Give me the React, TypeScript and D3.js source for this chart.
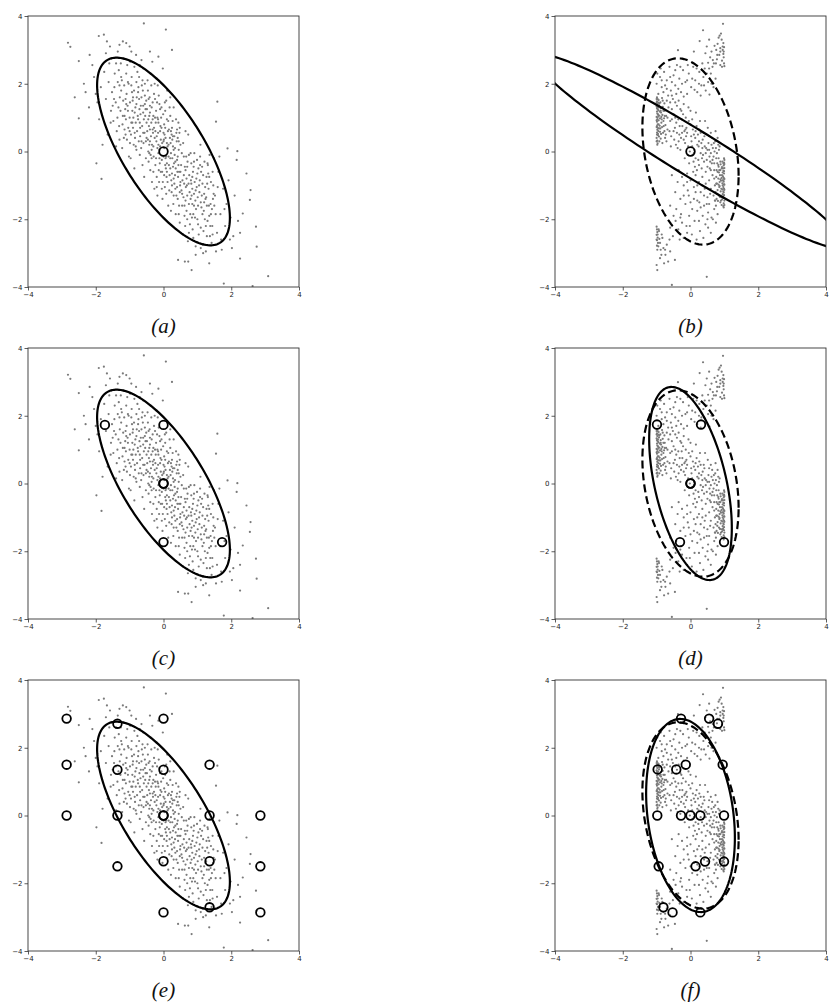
import React, { useRef, useEffect } from 'react'
import * as d3 from 'd3'

// ticks shared by every panel
const TICKS = [-4, -2, 0, 2, 4]

// ellipse params: [cx, cy, x half-extent, y half-extent, correlation]
const ellipseA = [0, 0, 1.96, 2.77, -0.707]
const ellipseB = [0, 0, 4.6, 2.87, -0.961]
const ellipseD = [0, 0, 1.22, 2.85, -0.46]
const ellipseF = [0, 0, 1.31, 2.85, -0.23]
const ellipseTrue = [0, 0, 1.42, 2.75, -0.26]

// markers
const meanA = [[0, 0]]
const meanB = [[0, 0]]
const sigmaC = [[0, 0], [0, 0], [-1.73, 1.73], [0, 1.73], [0, -1.73], [1.73, -1.73]]
const sigmaD = [[0, 0], [0, 0], [-0.99, 1.74], [0.31, 1.74], [-0.31, -1.73], [0.99, -1.73]]
const gridE = [
  [-2.86, 2.86], [-1.36, 2.71], [0, 2.86], [-2.86, 1.5], [-1.36, 1.35], [0, 1.35], [1.36, 1.5],
  [-2.86, 0], [-1.36, 0], [0, 0], [0, 0], [1.36, 0], [2.86, 0], [-1.36, -1.5], [0, -1.35],
  [1.36, -1.35], [2.86, -1.5], [0, -2.86], [1.36, -2.71], [2.86, -2.86],
]
const gridF = [
  [-0.28, 2.86], [0.55, 2.86], [0.81, 2.71], [-0.97, 1.36], [-0.42, 1.36], [-0.14, 1.5], [0.95, 1.5],
  [-0.98, 0], [-0.28, 0], [0, 0], [0.29, 0], [0.99, 0], [-0.94, -1.5], [0.15, -1.5],
  [0.43, -1.36], [0.99, -1.36], [-0.8, -2.71], [-0.53, -2.86], [0.29, -2.86],
]

// gray sample cloud of the left column
const cloudA = [
  [-2.82,3.21],[-2.75,3.09],[-2.5,2.67],[-2.62,1.6],[-2.5,0.98],[-2.18,2.85],[-1.91,3.41],[-1.76,3.45],[-2.3,1.75],[-2.05,2.2],
  [-1.98,-0.35],[-1.83,-0.81],[-2.2,1.3],[-1.95,1.45],[-1.7,2.9],[-1.6,2.6],[-1.85,1.9],[-1.55,1.2],[-1.65,0.5],[-1.75,2.35],
  [-2.1,2.55],[-1.58,3.1],[-1.52,1.75],[-1.9,0.95],[-1.62,2.05],[-2.35,2.0],[-1.7,1.55],[-1.8,0.2],[-1.56,0.85],[-2.0,1.7],
  [-1.67,3.25],[-1.53,2.75],[-1.2,3.25],[-1.1,3.2],[-1.3,3.15],[-0.95,2.95],[-0.4,2.95],[-1.0,3.1],[0.25,3.0],[-0.15,2.8],
  [-1.45,1.9],[-1.38,0.6],[-1.32,2.4],[-1.27,1.2],[-1.22,0.1],[-1.18,2.75],[-1.12,1.55],[-1.08,0.35],[-1.05,2.05],[-1.0,1.0],
  [-0.97,-0.2],[-0.93,1.75],[-0.9,0.7],[-0.86,2.5],[-0.83,1.3],[-0.8,0.05],[-0.76,1.05],[-0.72,2.2],[-0.69,0.45],[-0.65,1.6],
  [-0.62,-0.4],[-0.58,0.95],[-0.55,2.0],[-0.52,0.3],[-1.48,0.9],[-1.41,1.45],[-1.35,2.95],[-1.3,0.35],[-1.25,1.8],[-1.2,1.05],
  [-1.15,0.65],[-1.1,2.3],[-1.06,1.35],[-1.02,-0.15],[-0.98,2.65],[-0.95,0.85],[-0.91,1.5],[-0.88,0.2],[-0.85,1.15],[-0.81,2.85],
  [-0.78,0.6],[-0.74,1.9],[-0.7,-0.1],[-0.67,1.35],[-0.63,0.75],[-0.6,2.45],[-0.57,-0.75],[-0.53,1.25],[-1.44,2.3],[-1.36,1.0],
  [-1.29,1.6],[-1.23,2.1],[-1.17,0.4],[-1.13,1.25],[-1.09,1.7],[-1.04,0.7],[-0.99,1.45],[-0.94,2.2],[-0.89,1.0],[-0.84,0.4],
  [-0.79,1.6],[-0.75,0.95],[-0.71,1.25],[-0.66,0.1],[-0.61,1.8],[-0.56,0.55],[-0.51,1.5],[-1.4,0.15],[-1.33,1.3],[-1.26,2.6],
  [-1.19,1.5],[-1.11,0.95],[-1.03,2.0],[-0.96,0.5],[-0.87,1.8],[-0.82,0.85],[-0.77,2.35],[-0.73,0.3],[-0.68,1.1],[-0.64,1.95],
  [-0.59,0.25],[-0.54,1.05],[-1.46,1.55],[-1.21,0.8],[-1.07,2.55],[-0.92,1.2],[-0.86,-0.5],[-0.69,0.7],[-0.6,1.35],[-0.5,0.85],
  [-1.31,0.75],[-1.16,1.95],[-0.99,0.25],[-0.8,1.4],[-0.65,2.7],[-0.55,1.65],
  [-0.48,0.6],[-0.46,1.8],[-0.44,-0.3],[-0.42,1.05],[-0.4,0.3],[-0.38,2.3],[-0.36,0.85],[-0.34,-0.9],[-0.32,1.45],[-0.3,0.15],
  [-0.28,0.7],[-0.26,2.0],[-0.24,-0.4],[-0.22,1.2],[-0.2,0.45],[-0.18,-1.3],[-0.16,0.95],[-0.14,1.65],[-0.12,0.05],[-0.1,0.6],
  [-0.08,-0.6],[-0.06,1.3],[-0.04,0.25],[-0.02,2.45],[0.0,-0.15],[0.02,0.8],[0.04,-1.05],[0.06,0.4],[0.08,1.5],[0.1,-0.35],
  [0.12,0.15],[0.14,-1.6],[0.16,0.65],[0.18,-0.7],[0.2,1.05],[0.22,-0.05],[0.24,-1.2],[0.26,0.35],[0.28,-0.45],[0.3,1.3],
  [0.32,-0.95],[0.34,0.1],[0.36,-1.85],[0.38,0.55],[0.4,-0.25],[0.42,-1.4],[0.44,0.85],[0.46,-0.6],[0.48,-2.1],[0.5,0.2],
  [-0.49,1.25],[-0.45,0.0],[-0.41,1.6],[-0.37,0.45],[-0.33,2.65],[-0.29,-0.15],[-0.25,1.0],[-0.21,0.3],[-0.17,1.95],[-0.13,-0.9],
  [-0.09,0.75],[-0.05,-0.25],[-0.01,1.1],[0.03,0.5],[0.07,-0.5],[0.11,1.8],[0.15,-0.15],[0.19,0.4],[0.23,-0.85],[0.27,0.9],
  [0.31,-0.35],[0.35,-1.1],[0.39,0.3],[0.43,-0.75],[0.47,0.55],[-0.47,2.1],[-0.43,0.75],[-0.39,-0.55],[-0.35,1.3],[-0.31,0.55],
  [-0.27,-1.1],[-0.23,0.85],[-0.19,1.45],[-0.15,0.2],[-0.11,-0.35],[-0.07,1.0],[-0.03,-1.4],[0.01,0.35],[0.05,1.2],[0.09,-0.75],
  [0.13,0.6],[0.17,-1.15],[0.21,0.25],[0.25,0.7],[0.29,-1.55],[0.33,-0.1],[0.37,0.95],[0.41,-0.6],[0.45,0.05],[0.49,-1.0],
  [-0.46,0.35],[-0.4,1.35],[-0.34,0.2],[-0.28,1.7],[-0.22,-0.2],[-0.16,0.55],[-0.1,1.25],[-0.04,-0.6],[0.02,0.1],[0.08,-1.25],
  [0.14,0.9],[0.2,-0.5],[0.26,-0.2],[0.32,0.45],[0.38,-1.3],[0.44,-0.4],[0.48,0.7],[-0.44,1.55],[-0.38,-0.1],[-0.32,0.95],
  [-0.26,0.4],[-0.2,2.15],[-0.14,-0.55],[-0.08,0.35],[-0.02,-0.9],[0.04,1.45],[0.1,0.25],[0.16,-0.4],[0.22,-1.75],[0.28,0.15],
  [0.34,-0.7],[0.4,0.65],[0.46,-1.6],[-0.42,0.2],[-0.3,-0.6],[-0.18,0.1],[-0.06,0.7],[0.06,-0.2],[0.18,1.3],[0.3,-0.8],
  [0.42,0.4],[-0.36,1.95],[-0.24,0.6],[-0.12,-0.2],[0.0,0.55],[0.12,-0.9],[0.24,0.5],[0.36,-0.5],[0.07,3.6],[-0.58,3.78],
  [0.52,-0.4],[0.55,-1.6],[0.58,0.25],[0.61,-0.95],[0.64,-2.2],[0.67,-0.15],[0.7,-1.3],[0.73,0.5],[0.76,-0.7],[0.79,-1.85],
  [0.82,-0.35],[0.85,-1.1],[0.88,-2.55],[0.91,-0.05],[0.94,-1.45],[0.97,-0.8],[1.0,-2.0],[1.03,-0.5],[1.06,-1.2],[1.09,0.2],
  [1.12,-1.65],[1.15,-0.95],[1.18,-2.35],[1.21,-0.3],[1.24,-1.4],[1.27,-0.75],[1.3,-2.05],[1.33,-1.1],[1.36,-0.1],[1.39,-1.55],
  [1.42,-2.7],[1.45,-0.6],[1.48,-1.25],[0.53,-1.15],[0.57,-2.45],[0.6,-0.7],[0.65,0.6],[0.69,-1.0],[0.72,-2.65],[0.75,-1.55],
  [0.8,-0.05],[0.84,-1.95],[0.87,-0.6],[0.9,-1.25],[0.95,-2.8],[0.99,-0.25],[1.02,-1.6],[1.07,-0.85],[1.1,-2.25],[1.14,-0.45],
  [1.19,-1.75],[1.23,-1.05],[1.28,-2.5],[1.31,-0.4],[1.35,-1.9],[1.4,-0.9],[1.44,-2.2],[1.49,-0.2],[0.54,-0.05],[0.59,-1.35],
  [0.63,-0.45],[0.68,-1.75],[0.74,-0.95],[0.78,-2.15],[0.83,-1.3],[0.89,-0.45],[0.93,-1.95],[0.98,-1.05],[1.04,-2.45],[1.08,-0.15],
  [1.13,-1.3],[1.17,-0.7],[1.22,-2.0],[1.26,-1.35],[1.32,-0.65],[1.37,-2.5],[1.43,-1.7],[1.47,-1.0],[0.56,-0.85],[0.62,-1.9],
  [0.71,-0.3],[0.77,-1.2],[0.86,-2.3],[0.92,-0.9],[1.01,-1.35],[1.11,-0.6],[1.2,-1.5],[1.29,-0.95],[1.38,-2.2],[1.46,-1.4],
  [0.66,-1.05],[0.81,-0.85],[0.96,-1.7],[1.16,-2.75],[1.34,-1.6],
  [1.59,1.47],[1.55,0.88],[1.89,0.09],[2.18,0.01],[2.16,-0.25],[2.45,-0.65],[2.57,-1.14],[2.55,-1.43],[2.34,-1.83],[2.73,-2.22],
  [2.75,-2.81],[2.26,-3.16],[3.09,-3.68],[1.78,-3.9],[2.63,-3.97],[1.96,-2.6],[2.06,-2.5],[2.26,-2.4],[1.52,-1.3],[1.58,-2.4],
  [1.62,-0.6],[1.68,-1.85],[1.72,-2.9],[1.76,-1.1],[1.82,-2.2],[1.86,-1.55],[1.92,-0.85],[1.98,-1.95],[2.02,-2.85],[2.1,-1.3],
  [1.55,-2.95],[1.65,-0.15],[1.7,-2.6],[1.8,-1.7],[1.54,-1.85],[2.2,-2.05],[1.6,-1.05],
  [0.43,-3.2],[0.63,-3.25],[0.73,-3.25],[0.83,-3.5],[1.35,-3.3],[1.17,-3.0],[0.95,-3.05],[1.25,-2.95],[1.1,-2.85],
  [-0.9,1.6],[-0.7,0.85],[-0.5,0.4],[-0.3,1.05],[-0.1,0.15],[0.1,-0.6],[0.3,0.05],[0.5,-0.9],[0.7,-0.45],[0.9,-1.6],
  [-1.1,1.4],[-0.85,0.55],[-0.6,1.15],[-0.35,-0.2],[-0.15,0.85],[0.05,-0.4],[0.25,-1.0],[0.45,0.3],[0.65,-1.45],[0.85,-0.75],
  [-1.25,2.2],[-1.0,0.6],[-0.75,1.75],[-0.45,0.95],[-0.2,-0.75],[0.0,0.3],[0.2,-0.2],[0.4,-1.05],[0.6,-0.15],[0.8,-1.4],
  [1.0,-0.65],[1.2,-1.25],[1.4,-1.85],[-1.4,2.6],[-1.15,1.05],[-0.95,1.95],[-0.65,0.3],[-0.4,0.65],[-0.25,1.55],[-0.05,-1.1],
  [0.15,0.2],[0.35,-0.3],[0.55,-1.25],[0.75,-0.1],[0.95,-1.15],[1.15,-1.85],[1.35,-0.75],[-0.55,1.4],[-0.35,0.05],[0.1,0.95],
  [0.3,-1.3],[0.5,-0.6],[0.7,-2.0],[0.9,-0.3],[1.1,-1.5],[-0.8,2.05],[-0.6,0.55],[-0.4,1.15],[-0.15,-0.05],[0.05,0.7],
  [0.25,-0.65],[0.45,-1.85],[0.65,-0.55],[0.85,-1.55],[1.05,-1.0],[1.25,-2.2],[-1.05,1.2],[-0.82,0.15],[-0.62,2.1],[-0.42,-0.05],
  [-0.18,1.0],[0.02,-0.7],[0.22,0.6],[0.42,-0.15],[0.62,-1.6],[0.82,-0.95],[1.02,-2.15],[-1.3,1.95],[-1.12,0.5],[-0.92,0.85],
  [-0.72,1.55],[-0.52,-0.2],[-0.32,0.65],[-0.12,1.4],[0.08,-0.15],[0.28,0.45],[0.48,-1.2],[0.68,-0.8],[0.88,-1.85],[1.08,-0.4],
  [1.28,-1.6],[1.45,-2.45],[-1.5,1.35],[-1.35,2.05],[1.5,-1.6],[1.3,-0.35],[-0.2,-1.05],[0.2,1.6],[-0.7,2.55],[0.75,-2.4],
]

// gray sample cloud of the right column
const cloudB = [
  [0.96,3.77],[0.37,3.58],[0.86,3.42],[0.83,3.36],[0.27,3.26],[0.97,3.2],[0.99,3.08],[0.8,3.18],[0.76,3.0],[0.88,2.95],
  [0.97,2.88],[-0.37,2.99],[0.44,2.9],[0.58,2.78],[0.78,2.72],[0.93,2.68],[0.69,2.6],[0.88,2.55],[1.0,2.52],[0.62,2.95],
  [0.92,3.3],[0.71,3.12],[0.98,2.78],[0.52,2.62],[0.85,2.85],[0.66,2.7],[0.95,3.0],[0.9,3.48],[0.79,2.85],[0.99,2.6],
  [0.48,3.1],[0.1,2.95],[0.55,3.3],
  [-1.0,2.0],[-0.9,2.2],[-0.85,1.9],[-0.78,2.35],[-0.7,2.1],[-0.62,2.5],[-0.58,1.8],[-0.5,2.25],[-0.45,1.95],[-0.4,2.55],
  [-0.33,2.15],[-0.28,1.75],[-0.22,2.4],[-0.15,2.05],[-0.1,1.7],[-0.05,2.3],[0.02,1.9],[0.08,2.5],[0.14,2.1],[0.2,1.75],
  [0.26,2.35],[0.32,1.95],[0.38,2.2],[0.45,1.8],[0.52,2.05],[0.6,2.3],[0.68,1.9],[0.74,2.15],[-0.95,1.7],[-0.88,2.45],
  [-0.8,1.75],[-0.66,1.65],[-0.55,2.05],[-0.36,1.85],[-0.2,1.62],[-0.08,2.55],[0.05,2.15],[0.18,2.45],[0.3,1.65],[0.42,2.45],
  [0.56,1.68],[0.65,2.5],[-0.42,1.7],[-0.25,2.0],[0.12,1.82],[-0.75,1.95],[-0.98,2.3],[0.35,2.6],[0.48,2.3],[-0.6,2.2],
  [-1.0,1.55],[-0.99,1.48],[-0.98,1.4],[-1.0,1.33],[-0.97,1.25],[-0.99,1.18],[-0.96,1.1],[-1.0,1.02],[-0.98,0.95],[-0.99,0.88],
  [-0.97,0.8],[-1.0,0.72],[-0.98,0.64],[-0.99,0.56],[-0.96,0.48],[-1.0,0.4],[-0.98,0.32],[-0.97,0.24],[-0.94,1.52],[-0.93,1.36],
  [-0.95,1.22],[-0.92,1.06],[-0.94,0.92],[-0.91,0.76],[-0.95,0.6],[-0.93,0.44],[-0.92,0.3],[-0.89,1.45],[-0.88,1.28],[-0.87,1.15],
  [-0.9,0.98],[-0.86,0.85],[-0.89,0.68],[-0.87,0.52],[-0.88,0.38],[-0.84,1.58],[-0.82,1.32],[-0.83,1.08],[-0.8,0.9],[-0.84,0.72],
  [-0.81,0.55],[-0.83,0.25],[-0.77,1.42],[-0.76,1.2],[-0.78,0.98],[-0.74,0.78],[-0.77,0.6],[-0.75,0.4],[-0.99,1.6],[-0.96,1.3],
  [-0.97,1.0],[-0.99,0.75],[-0.96,0.52],[-0.98,0.2],[-0.95,1.44],[-0.93,0.68],[-0.91,1.18],[-0.86,1.02],[-0.8,1.2],[-0.72,1.05],
  [-0.7,1.5],[-0.68,0.65],[-0.71,0.3],
  [-1.0,1.45],[-0.99,1.28],[-0.98,1.12],[-1.0,0.92],[-0.97,0.7],[-0.99,0.5],[-1.0,0.3],[-0.97,1.55],[-0.95,1.05],[-0.94,0.8],
  [-0.92,1.42],[-0.9,0.58],[-0.88,1.2],[-0.85,0.95],[-0.82,1.5],[-0.79,0.75],[-0.76,1.05],[-0.73,0.5],
  [-0.65,1.3],[-0.6,0.9],[-0.57,0.45],[-0.52,1.55],[-0.5,1.1],[-0.46,0.7],[-0.43,0.2],[-0.4,1.35],[-0.36,0.95],[-0.33,0.5],
  [-0.3,0.05],[-0.27,1.2],[-0.24,0.75],[-0.2,0.35],[-0.17,-0.2],[-0.14,1.0],[-0.1,0.55],[-0.07,0.15],[-0.04,-0.35],[0.0,0.8],
  [0.03,0.3],[0.06,-0.1],[0.1,0.5],[0.13,-0.45],[0.16,1.15],[0.2,0.2],[0.23,-0.25],[0.26,0.65],[0.3,-0.05],[0.33,-0.5],
  [0.36,0.35],[0.4,-0.3],[0.43,0.9],[0.46,0.1],[0.5,-0.45],[0.53,0.25],[0.56,-0.15],[0.6,0.55],[0.63,-0.35],[0.66,0.1],
  [0.7,-0.55],[0.73,0.3],[0.76,-0.2],[0.8,0.4],[0.83,-0.45],[0.86,0.15],[-0.62,0.6],[-0.55,1.25],[-0.48,0.35],[-0.42,0.85],
  [-0.35,1.5],[-0.28,0.4],[-0.22,1.1],[-0.16,0.25],[-0.12,0.7],[-0.06,1.3],[-0.02,0.0],[0.05,0.95],[0.09,-0.3],[0.14,0.4],
  [0.19,-0.55],[0.24,0.15],[0.28,0.9],[0.34,-0.2],[0.39,0.55],[0.45,-0.05],[0.51,0.7],[0.57,-0.5],[0.62,0.2],[0.68,-0.15],
  [0.74,0.6],[0.79,-0.35],[0.84,0.05],[0.88,-0.3],[-0.58,0.15],[-0.45,1.45],[-0.38,0.1],[-0.26,0.95],[-0.18,0.6],[-0.08,-0.1],
  [0.02,0.45],[0.11,0.05],[0.18,0.75],[0.25,-0.4],[0.32,0.25],[0.41,0.45],[0.48,-0.25],[0.55,0.05],[0.64,0.4],[0.71,0.0],
  [0.78,-0.05],[0.85,-0.55],[-0.68,1.0],[-0.5,0.6],[-0.32,0.75],[-0.13,0.45],[0.07,0.65],[0.22,0.5],[0.37,-0.1],[0.58,-0.3],
  [0.69,0.25],[0.82,0.2],[-0.4,0.55],[-0.2,1.4],[0.0,1.2],[0.15,-0.2],[0.42,0.15],[0.6,-0.05],
  [-0.55,0.95],[-0.35,0.3],[-0.15,0.65],[0.05,0.15],[0.25,0.3],[0.45,-0.6],[0.65,-0.25],[-0.45,1.0],[-0.25,0.55],[-0.05,0.9],
  [0.15,0.6],[0.35,0.1],[0.55,0.45],[0.75,0.1],[-0.6,1.45],[-0.3,1.25],[0.1,-0.05],[0.3,0.55],[0.5,0.05],[0.7,-0.35],
  [1.0,-0.25],[0.99,-0.33],[0.98,-0.41],[1.0,-0.49],[0.97,-0.57],[0.99,-0.65],[0.96,-0.73],[1.0,-0.81],[0.98,-0.89],[0.99,-0.97],
  [0.97,-1.05],[1.0,-1.13],[0.98,-1.21],[0.99,-1.29],[0.96,-1.37],[1.0,-1.45],[0.98,-1.53],[0.97,-1.61],[0.94,-0.3],[0.93,-0.46],
  [0.95,-0.62],[0.92,-0.78],[0.94,-0.94],[0.91,-1.1],[0.95,-1.26],[0.93,-1.42],[0.92,-1.58],[0.89,-0.38],[0.88,-0.55],[0.87,-0.7],
  [0.9,-0.86],[0.86,-1.02],[0.89,-1.18],[0.87,-1.34],[0.88,-1.5],[0.84,-0.62],[0.82,-0.8],[0.83,-0.98],[0.8,-1.14],[0.84,-1.3],
  [0.81,-1.46],[0.83,-0.2],[0.77,-0.55],[0.76,-0.75],[0.78,-0.95],[0.74,-1.2],[0.77,-1.4],[0.75,-1.6],[0.99,-0.2],[0.96,-0.5],
  [0.97,-0.85],[0.99,-1.1],[0.96,-1.33],[0.98,-1.65],[0.95,-1.0],[0.93,-0.7],[0.91,-1.35],[0.86,-0.9],[0.8,-0.6],[0.72,-1.0],
  [0.7,-0.8],[0.68,-1.3],
  [1.0,-0.37],[0.99,-0.58],[0.98,-0.78],[1.0,-0.98],[0.97,-1.18],[0.99,-1.38],[1.0,-1.58],[0.97,-0.35],[0.95,-0.85],[0.94,-1.12],
  [0.92,-0.5],[0.9,-1.45],[0.88,-0.82],[0.85,-1.05],[0.82,-0.4],[0.79,-1.25],[0.76,-0.95],[0.73,-1.45],
  [0.65,-0.7],[0.6,-1.1],[0.55,-0.85],[0.5,-1.35],[0.45,-0.95],[0.4,-1.6],[0.35,-0.75],[0.3,-1.2],[0.25,-0.9],[0.2,-1.45],
  [0.15,-0.7],[0.1,-1.05],[0.05,-1.7],[0.0,-0.85],[-0.05,-1.3],[-0.1,-0.65],[-0.15,-1.55],[-0.2,-1.0],[-0.25,-0.75],[-0.3,-1.4],
  [-0.38,-0.9],[-0.45,-1.2],[-0.55,-0.7],[-0.6,-1.6],[0.7,-1.7],[0.62,-1.95],[0.52,-1.8],[0.44,-2.15],[0.36,-1.9],[0.28,-2.35],
  [0.2,-1.75],[0.12,-2.05],[0.04,-2.45],[-0.04,-1.9],[-0.12,-2.2],[-0.2,-2.55],[-0.28,-1.85],[-0.36,-2.3],[-0.44,-2.05],[-0.52,-2.5],
  [-0.6,-2.25],[0.8,-1.85],[0.75,-2.1],[0.6,-2.4],[0.48,-1.55],[0.3,-1.65],[0.1,-1.4],[-0.1,-2.4],[-0.25,-2.1],[-0.42,-1.7],
  [0.58,-1.25],[0.42,-1.1],[0.26,-1.5],[0.08,-0.6],[-0.08,-1.15],[-0.35,-0.55],[0.72,-1.45],[0.38,-2.55],[-0.02,-2.2],[0.66,-2.0],
  [0.52,-2.25],[-0.5,-1.9],[0.18,-2.6],[-0.32,-2.6],
  [0.6,-0.55],[0.4,-1.3],[0.2,-1.0],[0.0,-1.5],[-0.2,-1.3],[0.55,-1.55],[0.35,-1.0],[0.15,-1.2],[-0.1,-0.9],[0.5,-2.0],
  [0.25,-2.05],[-0.3,-1.95],[-0.7,1.85],[-0.45,2.4],[-0.1,2.1],[0.25,2.0],[0.55,2.45],[-0.85,2.1],[-0.3,2.5],[0.4,1.95],
  [0.62,2.0],[-0.55,1.65],
  [-1.0,-2.22],[-0.99,-2.3],[-0.98,-2.38],[-1.0,-2.46],[-0.97,-2.54],[-0.99,-2.62],[-0.96,-2.7],[-0.93,-2.35],[-0.92,-2.58],[-0.88,-2.9],
  [-0.85,-2.45],[-0.8,-2.85],[-0.74,-3.05],[-0.7,-2.75],[-0.66,-3.25],[-0.6,-2.95],[-0.98,-2.9],[-1.0,-3.35],[-0.98,-3.5],[-0.9,-3.15],
  [-0.55,-3.94],[0.48,-3.7],[-0.46,-3.2],[-0.78,-3.3],[-0.95,-2.8],[-0.62,-2.6],[-0.86,-3.05],
  [-1.0,-2.6],[-0.97,-2.45],[-0.99,-2.78],[-0.94,-2.3],[-0.9,-2.7],[-0.83,-2.55],[-0.75,-2.9],
  [0.95,3.1],[0.98,2.95],[0.88,3.05],[0.75,2.6],[0.93,2.5],
]

const panels = [
  { label: 'a', cloud: cloudA, dashed: null, solid: ellipseA, marks: meanA },
  { label: 'b', cloud: cloudB, dashed: ellipseTrue, solid: ellipseB, marks: meanB },
  { label: 'c', cloud: cloudA, dashed: null, solid: ellipseA, marks: sigmaC },
  { label: 'd', cloud: cloudB, dashed: ellipseTrue, solid: ellipseD, marks: sigmaD },
  { label: 'e', cloud: cloudA, dashed: null, solid: ellipseA, marks: gridE },
  { label: 'f', cloud: cloudB, dashed: ellipseTrue, solid: ellipseF, marks: gridF },
]

const ellipsePoints = ([cx, cy, ex, ey, rho]) =>
  d3.range(0, 361, 2).map((deg) => {
    const t = (deg * Math.PI) / 180
    return [
      cx + ex * Math.cos(t),
      cy + ey * (rho * Math.cos(t) + Math.sqrt(1 - rho * rho) * Math.sin(t)),
    ]
  })

const App = () => {
  const svgRef = useRef(null)

  useEffect(() => {
    const svg = d3.select(svgRef.current)
    svg.selectAll('*').remove()

    const size = 271
    const lefts = [28, 555]
    const tops = [16, 348, 680]

    const x = d3.scaleLinear().domain([-4, 4]).range([0, size])
    const y = d3.scaleLinear().domain([-4, 4]).range([size, 0])
    const line = d3
      .line()
      .x((d) => x(d[0]))
      .y((d) => y(d[1]))
      .curve(d3.curveLinearClosed)

    panels.forEach((p, i) => {
      const col = i % 2
      const row = Math.floor(i / 2)
      const g = svg
        .append('g')
        .attr('transform', `translate(${lefts[col]},${tops[row]})`)

      const clipId = `clip-${p.label}`
      g.append('clipPath')
        .attr('id', clipId)
        .append('rect')
        .attr('width', size)
        .attr('height', size)

      const plot = g.append('g').attr('clip-path', `url(#${clipId})`)

      plot
        .selectAll('.dot')
        .data(p.cloud)
        .enter()
        .append('circle')
        .attr('cx', (d) => x(d[0]))
        .attr('cy', (d) => y(d[1]))
        .attr('r', 1.1)
        .attr('fill', '#7a7a7a')

      if (p.dashed) {
        plot
          .append('path')
          .attr('d', line(ellipsePoints(p.dashed)))
          .attr('fill', 'none')
          .attr('stroke', '#000')
          .attr('stroke-width', 2.2)
          .attr('stroke-dasharray', '8,4')
      }

      plot
        .append('path')
        .attr('d', line(ellipsePoints(p.solid)))
        .attr('fill', 'none')
        .attr('stroke', '#000')
        .attr('stroke-width', 2.2)

      g.selectAll('.mark')
        .data(p.marks)
        .enter()
        .append('circle')
        .attr('cx', (d) => x(d[0]))
        .attr('cy', (d) => y(d[1]))
        .attr('r', 4.3)
        .attr('fill', 'none')
        .attr('stroke', '#000')
        .attr('stroke-width', 1.8)

      const xAxis = d3.axisBottom(x).tickValues(TICKS).tickSize(3.5).tickSizeOuter(0).tickPadding(2)
      const yAxis = d3.axisLeft(y).tickValues(TICKS).tickSize(3.5).tickSizeOuter(0).tickPadding(2)

      const styleAxis = (sel) => {
        sel.attr('fill', '#222').attr('color', '#333')
        sel.select('.domain').remove()
        sel.selectAll('line').attr('stroke', '#333').attr('stroke-width', 0.8)
        sel
          .selectAll('text')
          .attr('fill', '#222')
          .style('font-size', '7px')
          .style('font-family', 'DejaVu Sans')
      }

      g.append('g').attr('transform', `translate(0,${size})`).call(xAxis).call(styleAxis)
      g.append('g').call(yAxis).call(styleAxis)

      g.append('rect')
        .attr('width', size)
        .attr('height', size)
        .attr('fill', 'none')
        .attr('stroke', '#333')
        .attr('stroke-width', 0.9)

      g.append('text')
        .attr('x', size / 2)
        .attr('y', size + 46)
        .attr('text-anchor', 'middle')
        .style('font-family', 'Liberation Serif')
        .style('font-style', 'italic')
        .style('font-size', '21px')
        .attr('fill', '#111')
        .text(`(${p.label})`)
    })
  }, [])

  return (
    <svg
      ref={svgRef}
      width={833}
      height={1005}
      style={{ position: 'absolute', left: 0, top: 0, background: '#fff' }}
    />
  )
}

export default App
